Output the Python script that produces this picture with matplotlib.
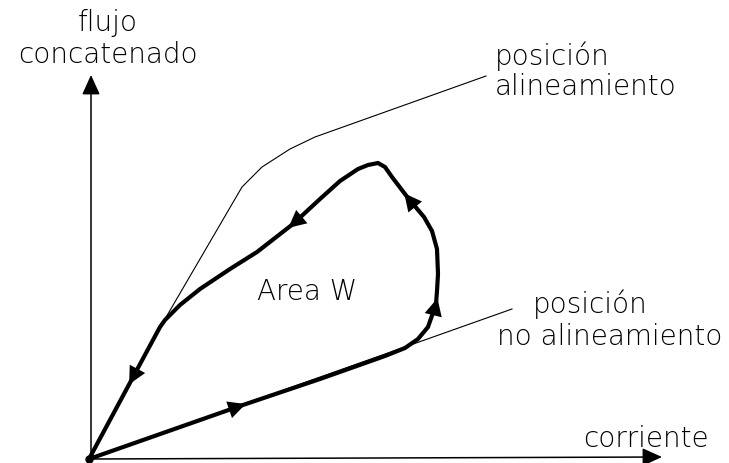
import numpy as np
import matplotlib.pyplot as plt

# drawing is laid out in pixel units (x right, y down), 729 x 464
W, H = 729, 464

origin = (89, 460)
x_axis_end = (662, 458)
y_axis_end = (91, 76)

# magnetisation curve, aligned position
align_x = [89, 165, 242, 262, 290, 315, 486]
align_y = [460, 320, 188, 168, 150, 138, 77]

# magnetisation curve, unaligned position
unalign_x = [89, 512]
unalign_y = [460, 310]

# energy conversion loop (traversed counter-clockwise)
loop_x = [89, 240, 320, 385, 405, 418, 428, 436, 437, 438, 437, 432, 424,
          408, 392, 385, 378, 368, 358, 340, 320, 293, 257, 230, 200, 180,
          165, 160, 132, 89]
loop_y = [460, 407, 380, 357, 349, 340, 328, 305, 292, 275, 250, 232, 218,
          199, 178, 168, 164, 166, 170, 182, 200, 225, 253, 270, 290, 306,
          321, 328, 380, 460]
arrow_idx = [1, 7, 13, 21, 28]

fig = plt.figure(figsize=(W / 100, H / 100), dpi=100)
ax = fig.add_axes([0, 0, 1, 1])
ax.set_xlim(0, W)
ax.set_ylim(H, 0)
ax.axis('off')

head = dict(arrowstyle='-|>,head_length=0.55,head_width=0.25',
            mutation_scale=22, color='black', lw=1.1, shrinkA=0, shrinkB=0)

# axes
ax.annotate('', xy=x_axis_end, xytext=origin, arrowprops=head)
ax.annotate('', xy=y_axis_end, xytext=(91, 460), arrowprops=head)

ax.plot(align_x, align_y, color='black', lw=0.8)
ax.plot(unalign_x, unalign_y, color='black', lw=0.8)
ax.plot(loop_x, loop_y, color='black', lw=3.0, solid_joinstyle='round',
        solid_capstyle='round')
ax.plot(*origin, 'o', color='black', ms=5)

# direction arrows on the loop
small = dict(arrowstyle='-|>,head_length=0.6,head_width=0.3',
             mutation_scale=21, color='black', lw=0, shrinkA=0, shrinkB=0)
for i in arrow_idx:
    d = np.array([loop_x[i + 1] - loop_x[i - 1], loop_y[i + 1] - loop_y[i - 1]], float)
    d /= np.hypot(*d)
    p = np.array([loop_x[i], loop_y[i]], float)
    ax.annotate('', xy=p + 6 * d, xytext=p - 8 * d, arrowprops=small)

font = dict(family='DejaVu Sans', weight='light', size=20, color='black')
ax.text(108, 31, 'flujo', ha='center', va='baseline', **font)
ax.text(108, 63, 'concatenado', ha='center', va='baseline', **font)
ax.text(495, 65, 'posición', ha='left', va='baseline', **font)
ax.text(495, 95, 'alineamiento', ha='left', va='baseline', **font)
ax.text(533, 313, 'posición', ha='left', va='baseline', **font)
ax.text(497, 345, 'no alineamiento', ha='left', va='baseline', **font)
ax.text(583, 447, 'corriente', ha='left', va='baseline', **font)
ax.text(257, 300, 'Area W', ha='left', va='baseline', **font)

fig.savefig('out.png', dpi=100, facecolor='white')
